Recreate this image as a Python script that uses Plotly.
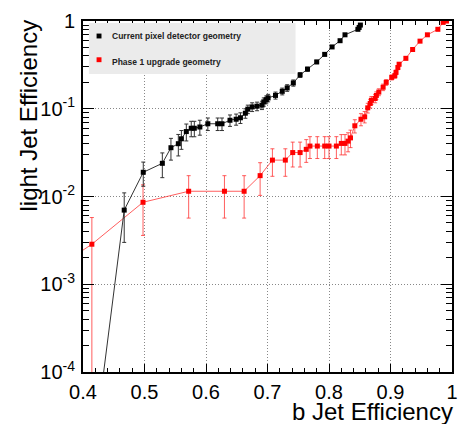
import plotly.graph_objects as go

# current pixel detector geometry (black)
cur_x = [0.4155, 0.467, 0.498, 0.529, 0.543, 0.555, 0.560, 0.568, 0.576, 0.581,
         0.590, 0.603, 0.619, 0.626, 0.639, 0.649, 0.656, 0.664, 0.668, 0.675,
         0.683, 0.691, 0.694, 0.698, 0.701, 0.713, 0.724, 0.732, 0.742, 0.753,
         0.765, 0.780, 0.793, 0.805, 0.818, 0.826, 0.847, 0.849, 0.851]
cur_y = [1e-5, 0.0070, 0.0189, 0.0239, 0.036, 0.040, 0.0455, 0.055, 0.060, 0.060,
         0.062, 0.0675, 0.0675, 0.0675, 0.074, 0.076, 0.079, 0.089, 0.099, 0.105,
         0.107, 0.110, 0.120, 0.127, 0.133, 0.142, 0.158, 0.173, 0.197, 0.243,
         0.283, 0.342, 0.417, 0.507, 0.597, 0.697, 0.805, 0.845, 0.900]
cur_err = [0, 0.0040, 0.0058, 0.0075, 0.010, 0.011, 0.011, 0.012, 0.012, 0.012,
           0.012, 0.011, 0.011, 0.011, 0.011, 0.011, 0.011, 0.011, 0.011, 0.012,
           0.012, 0.012, 0.013, 0.013, 0.013, 0.013, 0.014, 0.015, 0.016, 0.015,
           0.015, 0.015, 0.015, 0.015, 0.015, 0.015, 0.010, 0.010, 0.010]

# phase 1 upgrade geometry (red)
up_x = [0.39, 0.4144, 0.4976, 0.5718, 0.630, 0.662, 0.688, 0.708, 0.729, 0.741,
        0.753, 0.763, 0.769, 0.781, 0.793, 0.800, 0.812, 0.820, 0.826, 0.831,
        0.835, 0.842, 0.852, 0.858, 0.863, 0.867, 0.869, 0.875, 0.877, 0.881,
        0.888, 0.893, 0.902, 0.907, 0.909, 0.912, 0.914, 0.925, 0.936, 0.948,
        0.960, 0.977, 0.9856, 0.991]
up_y = [0.0022, 0.00286, 0.0086, 0.01148, 0.01148, 0.01148, 0.0173, 0.026, 0.026, 0.0317,
        0.0317, 0.0345, 0.0376, 0.0376, 0.0376, 0.0376, 0.0376, 0.0403, 0.0403, 0.0428,
        0.0466, 0.064, 0.076, 0.081, 0.1025, 0.115, 0.125, 0.131, 0.142, 0.155,
        0.176, 0.200, 0.228, 0.238, 0.260, 0.295, 0.322, 0.376, 0.474, 0.590,
        0.697, 0.805, 0.965, 1.0]
up_err = [0.001, 0.0029, 0.0050, 0.0058, 0.0058, 0.0058, 0.0070, 0.0090, 0.0090, 0.0100,
          0.0100, 0.0100, 0.0105, 0.0105, 0.0105, 0.0105, 0.0105, 0.0105, 0.0105, 0.0105,
          0.0105, 0.011, 0.012, 0.012, 0.013, 0.013, 0.013, 0.014, 0.014, 0.014,
          0.015, 0.015, 0.015, 0.015, 0.015, 0.015, 0.015, 0.015, 0.015, 0.015,
          0.015, 0.015, 0.010, 0.010]

y_tickvals = [1e-4, 1e-3, 1e-2, 1e-1, 1]
y_ticktext = ["10<sup>-4</sup>", "10<sup>-3</sup>", "10<sup>-2</sup>", "10<sup>-1</sup>", "1"]

FONT = "Liberation Sans, Arial, Helvetica, sans-serif"

fig = go.Figure()
fig.add_trace(go.Scatter(
    x=up_x, y=up_y, mode="lines+markers", name="Phase 1 upgrade geometry",
    line=dict(color="rgba(255,40,40,0.75)", width=1),
    marker=dict(symbol="square", size=5, color="#ff0000"),
    error_y=dict(type="data", array=up_err, color="rgba(255,40,40,0.75)",
                 thickness=1, width=2),
    showlegend=False))
fig.add_trace(go.Scatter(
    x=cur_x, y=cur_y, mode="lines+markers", name="Current pixel detector geometry",
    line=dict(color="#333333", width=1),
    marker=dict(symbol="square", size=5, color="#000000"),
    error_y=dict(type="data", array=cur_err, color="#333333", thickness=1, width=2),
    showlegend=False))

axis_common = dict(
    showline=True, linecolor="black", linewidth=2, mirror="allticks",
    ticks="inside", tickcolor="black", tickwidth=1,
    showgrid=True, gridcolor="#888888", griddash="1px,2px", gridwidth=1,
    zeroline=False, tickfont=dict(family=FONT, size=20, color="black"),
)

fig.update_xaxes(**axis_common, range=[0.4, 1.0], tick0=0.4, dtick=0.1, ticklen=8,
                 ticklabelstandoff=1,
                 minor=dict(dtick=0.02, ticks="inside", ticklen=4, tickcolor="black",
                            showgrid=False))
fig.update_yaxes(**axis_common, type="log", range=[-4, 0.0005], tickmode="array",
                 tickvals=y_tickvals, ticktext=y_ticktext, ticklen=11,
                 ticklabelstandoff=2,
                 minor=dict(tickmode="array",
                            tickvals=[m * 10.0 ** e for e in range(-4, 0) for m in range(2, 10)],
                            ticks="inside", ticklen=6, tickcolor="black", showgrid=False))

# legend box drawn by hand
fig.add_shape(type="rect", xref="paper", yref="paper", x0=0.016, x1=0.576,
              y0=0.849, y1=0.994, fillcolor="#ebebeb", line=dict(width=0), layer="above")
fig.add_shape(type="rect", xref="paper", yref="paper", x0=0.0368, x1=0.0501,
              y0=0.9503, y1=0.9642, fillcolor="black", line=dict(width=0), layer="above")
fig.add_shape(type="rect", xref="paper", yref="paper", x0=0.0368, x1=0.0501,
              y0=0.8827, y1=0.8966, fillcolor="#ff0000", line=dict(width=0), layer="above")
fig.add_annotation(xref="paper", yref="paper", x=0.072, y=0.9567, xanchor="left",
                   yanchor="middle", showarrow=False,
                   text="<b>Current pixel detector geometry</b>",
                   font=dict(family=FONT, size=8.5, color="#222222"))
fig.add_annotation(xref="paper", yref="paper", x=0.072, y=0.8841, xanchor="left",
                   yanchor="middle", showarrow=False,
                   text="<b>Phase 1 upgrade geometry</b>",
                   font=dict(family=FONT, size=8.5, color="#222222"))

# axis titles
fig.add_annotation(xref="paper", yref="paper", x=1.008, y=-0.112, xanchor="right",
                   yanchor="middle", showarrow=False, text="b Jet Efficiency",
                   font=dict(family=FONT, size=24, color="black"))
fig.add_annotation(xref="paper", yref="paper", x=-0.149, y=1.01, xanchor="center",
                   yanchor="top", showarrow=False, text="light Jet Efficiency",
                   textangle=-90, font=dict(family=FONT, size=24, color="black"))

fig.update_layout(
    width=468, height=424,
    margin=dict(l=83, r=10, t=14, b=52),
    paper_bgcolor="white", plot_bgcolor="white",
    font=dict(family=FONT, color="black"),
)

fig.write_html("out.html", config={"displayModeBar": False},
               post_script="document.body.style.margin='0';")
